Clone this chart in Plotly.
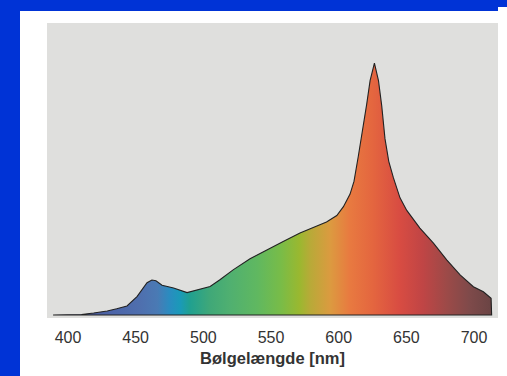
import plotly.graph_objects as go

# Spectrum (wavelength in nm, relative intensity)
wavelength = [389, 400, 410, 419, 425, 429, 436, 443.6, 451, 458.4, 462, 465, 469.5, 478, 488,
              495, 497.5, 501, 505, 512, 522, 534.5, 546.8, 559, 571.4, 583.8, 591, 598.6,
              603.5, 608.4, 611.3, 614.5, 618.2, 620.7, 623.2, 626.4, 629.4, 631.8, 634.2,
              637, 640.4, 643, 645.3, 650.3, 660, 670, 679.8, 689.7, 699.5, 706.9,
              712.6, 713]
intensity = [0.0, 0.0, 0.002, 0.008, 0.012, 0.016, 0.025, 0.036, 0.073, 0.128, 0.139, 0.136,
             0.118, 0.107, 0.089, 0.1, 0.102, 0.109, 0.113, 0.139, 0.179, 0.223, 0.259, 0.292,
             0.325, 0.352, 0.369, 0.395, 0.43, 0.48, 0.53, 0.63, 0.745, 0.837, 0.93, 1.0,
             0.93, 0.83, 0.70, 0.61, 0.545, 0.50, 0.465, 0.415, 0.345, 0.285, 0.219,
             0.159, 0.112, 0.092, 0.066, 0.0]

tick_values = [400, 450, 500, 550, 600, 650, 700]
x_title = "Bølgelængde [nm]"

# spectral colour stops (wavelength, colour)
color_nm = [389, 416, 431, 453, 466, 475, 483, 490, 505, 520, 540, 557, 571, 579, 594, 608,
            625, 645, 662, 680, 697, 713]
color_hex = ["#3c3a6a", "#4a5a9a", "#4c64a8", "#4f6fae", "#4a7ab4", "#2a8cc0", "#1a9ab8",
             "#20a090", "#40a878", "#50b070", "#60b860", "#78bc48", "#9ab830", "#b8aa38",
             "#dc9a40", "#e87a40", "#e4663f", "#d84c42", "#c04545", "#9c4a48", "#7e4a4a",
             "#6a4444"]

lo, hi = color_nm[0], color_nm[-1]
colorscale = [[(w - lo) / (hi - lo), c] for w, c in zip(color_nm, color_hex)]

xs = wavelength + [wavelength[0]]
ys = intensity + [0.0]

fig = go.Figure()
fig.add_trace(go.Scatter(
    x=xs, y=ys, mode="lines", fill="toself",
    fillgradient=dict(type="horizontal", colorscale=colorscale, start=lo, stop=hi),
    line=dict(color="#222222", width=1.1),
    hoverinfo="skip", showlegend=False,
))

W, H = 507, 376
L, R, T, B = 47, 9, 23, 58
pw, ph = W - L - R, H - T - B


def px(x):
    return (x - L) / pw


def py(y):
    return (H - B - y) / ph


blue = "#0033d6"
shapes = [
    dict(type="rect", xref="paper", yref="paper", x0=px(0), x1=px(20), y0=py(H), y1=py(0),
         fillcolor=blue, line=dict(width=0), layer="above"),
    dict(type="rect", xref="paper", yref="paper", x0=px(0), x1=px(498), y0=py(11), y1=py(0),
         fillcolor=blue, line=dict(width=0), layer="above"),
    dict(type="rect", xref="paper", yref="paper", x0=px(498), x1=px(W), y0=py(7), y1=py(0),
         fillcolor=blue, line=dict(width=0), layer="above"),
]

fig.update_layout(
    width=W, height=H,
    margin=dict(l=L, r=R, t=T, b=B),
    paper_bgcolor="white",
    plot_bgcolor="#dfdfdd",
    shapes=shapes,
    font=dict(family="Liberation Sans, Arial, sans-serif", color="#333333"),
    xaxis=dict(range=[384.5, 717.7], tickvals=tick_values, showgrid=False, zeroline=False,
               showline=False, ticks="outside", ticklen=5, tickcolor="rgba(0,0,0,0)",
               tickfont=dict(size=16, color="#333333"),
               title=dict(text="<b>" + x_title + "</b>", font=dict(size=16.5, color="#333333"),
                          standoff=7)),
    yaxis=dict(range=[-0.012, 1.159], visible=False, showgrid=False, zeroline=False),
)

fig.write_html("out.html")
